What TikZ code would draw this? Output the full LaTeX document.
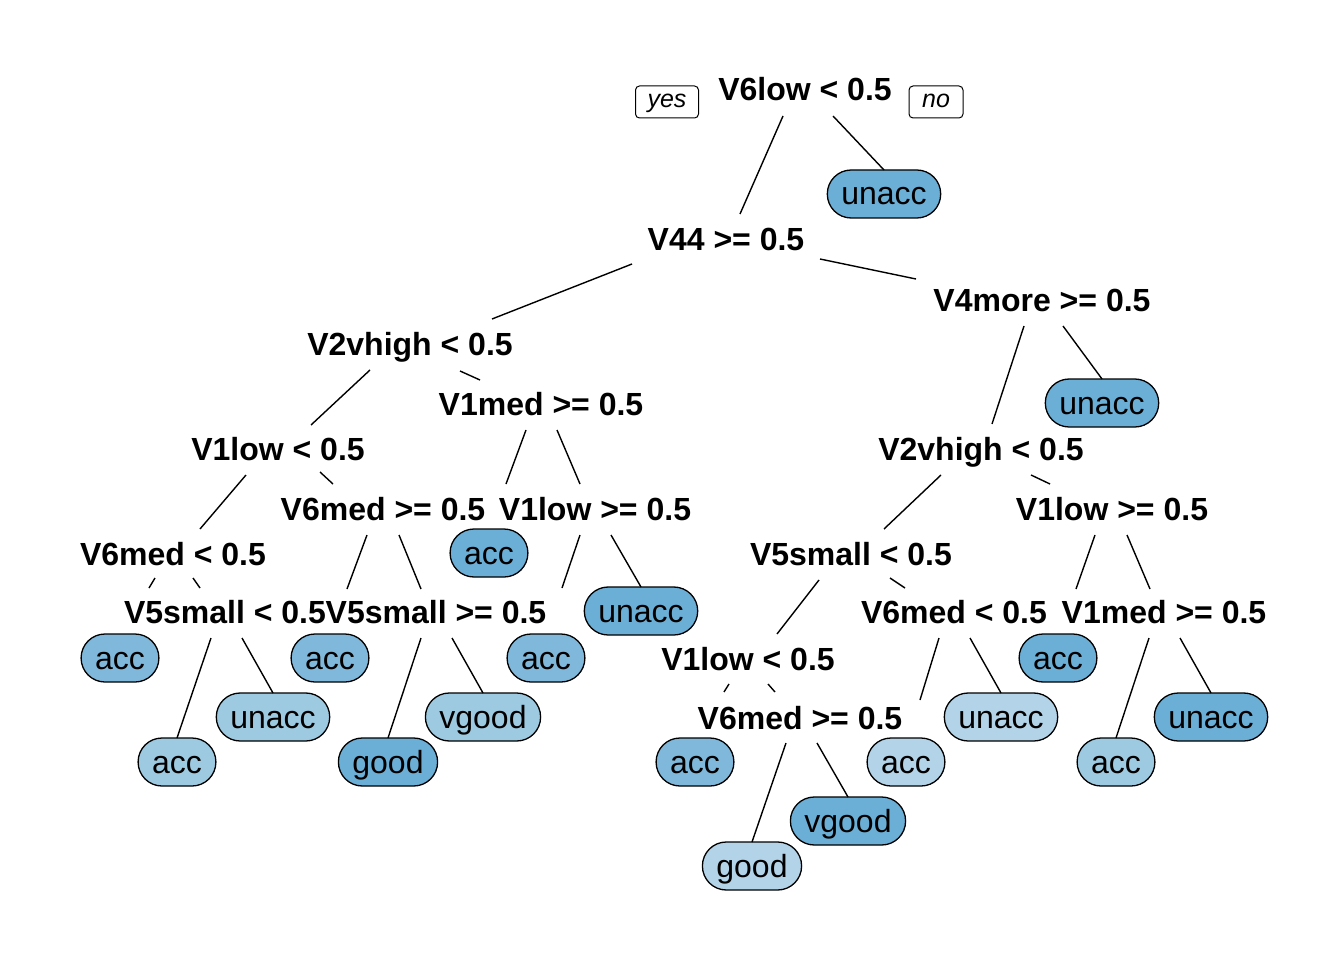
\documentclass[tikz,border=0pt]{standalone}
\usepackage{fontspec}
\setmainfont{Liberation Sans}
\usetikzlibrary{calc}
\definecolor{cA}{HTML}{6BAED6}
\definecolor{cB}{HTML}{7FB8DA}
\definecolor{cC}{HTML}{9DCAE1}
\definecolor{cD}{HTML}{B3D3E8}
\newcommand\edg[6]{\draw[edge] ($(#1)+(#2,#3)$) -- ($(#4)+(#5,#6)$);}
\begin{document}
\begin{tikzpicture}[x=1pt,y=-1pt,
  split/.style={font=\fontsize{32}{36}\selectfont\bfseries, inner sep=0pt, text height=24pt, text depth=0pt},
  leaf/.style={draw, line width=1.3pt, rounded corners=23.9pt, minimum height=48pt, inner xsep=14pt, inner ysep=0pt,
    text height=28pt, text depth=6pt, font=\fontsize{32}{36}\selectfont},
  yn/.style={draw, line width=1pt, rounded corners=4pt, minimum height=32pt, inner sep=0pt,
    text height=17pt, text depth=5pt, font=\fontsize{25}{28}\selectfont\itshape},
  edge/.style={line width=1.4pt}]
\useasboundingbox (0,0) rectangle (1344,960);
% split labels
\node[split] (s1) at (805,89) {V6low < 0.5};
\node[split] (s2) at (726,239) {V44 >= 0.5};
\node[split] (s3) at (410,343) {V2vhigh < 0.5};
\node[split] (s4) at (541,403) {V1med >= 0.5};
\node[split] (s5) at (278,448) {V1low < 0.5};
\node[split] (s6) at (383,508) {V6med >= 0.5};
\node[split] (s7) at (595,508) {V1low >= 0.5};
\node[split] (s8) at (173,553) {V6med < 0.5};
\node[split] (s9) at (225,611) {V5small < 0.5};
\node[split] (s10) at (436,611) {V5small >= 0.5};
\node[split] (s11) at (1042,299) {V4more >= 0.5};
\node[split] (s12) at (981,448) {V2vhigh < 0.5};
\node[split] (s13) at (1112,508) {V1low >= 0.5};
\node[split] (s14) at (851,553) {V5small < 0.5};
\node[split] (s15) at (954,611) {V6med < 0.5};
\node[split] (s16) at (1164,611) {V1med >= 0.5};
\node[split] (s17) at (748,658) {V1low < 0.5};
\node[split] (s18) at (800,717) {V6med >= 0.5};
% yes / no
\node[yn, minimum width=63pt] (yes) at (667,102) {yes};
\node[yn, minimum width=54pt] (no) at (936,102) {no};
% leaves
\node[leaf, fill=cA] (l1) at (884,194) {unacc};
\node[leaf, fill=cA] (l2) at (1102,403) {unacc};
\node[leaf, fill=cA] (l3) at (489,553) {acc};
\node[leaf, fill=cA] (l4) at (641,611) {unacc};
\node[leaf, fill=cB] (l5) at (120,658) {acc};
\node[leaf, fill=cB] (l6) at (330,658) {acc};
\node[leaf, fill=cB] (l7) at (546,658) {acc};
\node[leaf, fill=cA] (l8) at (1058,658) {acc};
\node[leaf, fill=cC] (l9) at (273,717) {unacc};
\node[leaf, fill=cC] (l10) at (483,717) {vgood};
\node[leaf, fill=cD] (l11) at (1001,717) {unacc};
\node[leaf, fill=cA] (l12) at (1211,717) {unacc};
\node[leaf, fill=cC] (l13) at (177,762) {acc};
\node[leaf, fill=cA] (l14) at (388,762) {good};
\node[leaf, fill=cB] (l15) at (695,762) {acc};
\node[leaf, fill=cD] (l16) at (906,762) {acc};
\node[leaf, fill=cC] (l17) at (1116,762) {acc};
\node[leaf, fill=cA] (l18) at (848,821) {vgood};
\node[leaf, fill=cD] (l19) at (752,866) {good};
% edges
\edg{s1}{-22}{27}{s2}{14}{-25}
\edg{s1}{28}{27}{l1}{0}{-24}
\edg{s2}{-94}{25}{s3}{82}{-24}
\edg{s2}{94}{20}{s11}{-126}{-20}
\edg{s3}{-40}{27}{s5}{33}{-23}
\edg{s3}{50}{28}{s4}{-61}{-23}
\edg{s4}{-15}{27}{l3}{17}{-69}
\edg{s4}{16}{27}{s7}{-15}{-24}
\edg{s7}{-15}{27}{l7}{16}{-70}
\edg{s7}{16}{27}{l4}{0}{-24}
\edg{s5}{-32}{27}{s8}{27}{-24}
\edg{s5}{42}{24}{s6}{-50}{-24}
\edg{s6}{-16}{27}{l6}{17}{-69}
\edg{s6}{16}{27}{s10}{-15}{-22}
\edg{s8}{-18}{25}{l5}{29}{-70}
\edg{s8}{20}{25}{s9}{-25}{-23}
\edg{s9}{-14}{27}{l13}{0}{-24}
\edg{s9}{17}{27}{l9}{0}{-24}
\edg{s10}{-15}{27}{l14}{0}{-24}
\edg{s10}{16}{27}{l10}{0}{-24}
\edg{s11}{-18}{27}{s12}{11}{-24}
\edg{s11}{21}{27}{l2}{0}{-24}
\edg{s12}{-40}{27}{s14}{33}{-24}
\edg{s12}{50}{27}{s13}{-62}{-24}
\edg{s13}{-17}{27}{l8}{18}{-69}
\edg{s13}{15}{27}{s16}{-14}{-22}
\edg{s14}{-32}{27}{s17}{29}{-24}
\edg{s14}{39}{25}{s15}{-49}{-23}
\edg{s15}{-15}{27}{l16}{14}{-62}
\edg{s15}{16}{27}{l11}{0}{-24}
\edg{s16}{-15}{27}{l17}{0}{-24}
\edg{s16}{16}{27}{l12}{0}{-24}
\edg{s17}{-19}{26}{l15}{29}{-70}
\edg{s17}{20}{26}{s18}{-25}{-25}
\edg{s18}{-14}{26}{l19}{0}{-24}
\edg{s18}{17}{26}{l18}{0}{-24}
\end{tikzpicture}
\end{document}
